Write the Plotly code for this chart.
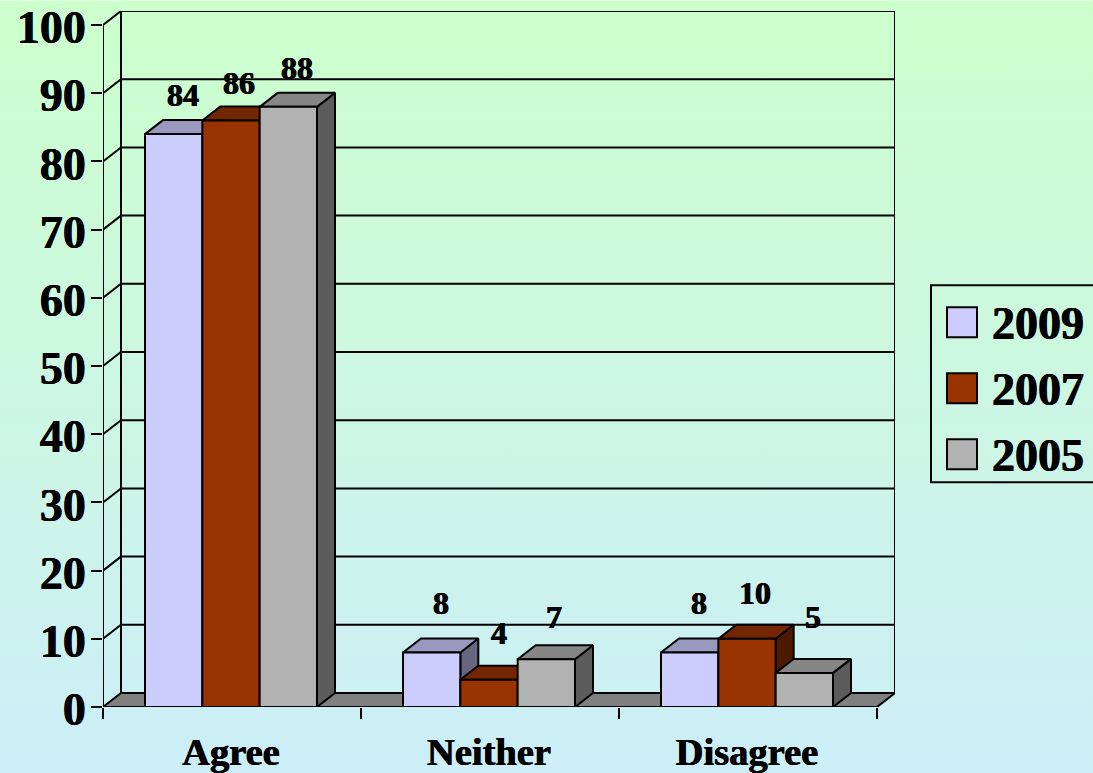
import base64
import plotly.graph_objects as go

# ---- data ----
categories = ["Agree", "Neither", "Disagree"]
years = ["2009", "2007", "2005"]
values_2009 = [84, 8, 8]
values_2007 = [86, 4, 10]
values_2005 = [88, 7, 5]
y_ticks = [0, 10, 20, 30, 40, 50, 60, 70, 80, 90, 100]

# ---- label nudges (pixels from the bar's front-top centre) ----
label_dx_2009 = [9, 9, 9]
label_dx_2007 = [8, 10, 8]
label_dx_2005 = [9, 8, 9]
label_dy_2009 = [39, 49, 49]
label_dy_2007 = [37, 47, 45.5]
label_dy_2005 = [38.5, 42, 55.6]

# ---- style ----
W, H = 1093, 773
L, R, T, B = 103, 895, 10.7, 706.7      # plot box in pixels
PX_PER_CAT = 258
PX_PER_UNIT = 6.82
DEPTH_X = 18 / PX_PER_CAT               # oblique offset of the back plane, in axis units
DEPTH_Y = 14 / PX_PER_UNIT
GROUP_NUDGE = -1 / PX_PER_CAT
FONT = "Liberation Serif"
HEAVY = "0.4px 0 0 #000, -0.4px 0 0 #000"
front_colors = ["#CCCCFF", "#993300", "#B2B2B2"]
top_colors = ["#9999BF", "#732600", "#868686"]
side_colors = ["#666680", "#4D1A00", "#5C5C5C"]
FLOOR = "#808080"
LW = 2

series = [values_2009, values_2007, values_2005]
label_dx = [label_dx_2009, label_dx_2007, label_dx_2005]
label_dy = [label_dy_2009, label_dy_2007, label_dy_2005]
n_cat = len(categories)
centers = [i + 0.5 + GROUP_NUDGE for i in range(n_cat)]
BARGAP = 1 / 3
bar_w = (1 - BARGAP) / len(series)

fig = go.Figure()


def poly(xs, ys, fill, z, line=LW):
    fig.add_trace(go.Scatter(
        x=xs, y=ys, mode="lines", fill="toself" if fill else None, fillcolor=fill,
        line=dict(color="black", width=line), hoverinfo="skip", showlegend=False,
        cliponaxis=False, zorder=z))


# floor
poly([0, n_cat, n_cat + DEPTH_X, DEPTH_X, 0], [0, 0, DEPTH_Y, DEPTH_Y, 0], FLOOR, 0)

# gridlines on the left wall and back wall
gx, gy = [], []
for v in y_ticks[1:]:
    gx += [0, DEPTH_X, n_cat + DEPTH_X, None]
    gy += [v, v + DEPTH_Y, v + DEPTH_Y, None]
poly(gx, gy, None, 0)
# wall verticals
top = y_ticks[-1]
poly([DEPTH_X, DEPTH_X, None, n_cat + DEPTH_X, n_cat + DEPTH_X],
     [DEPTH_Y, top + DEPTH_Y, None, DEPTH_Y, top + DEPTH_Y], None, 0)

# bars: side + top faces, then the real bar in front, left to right
for s, vals in enumerate(series):
    z = 1 + 2 * s
    for c, v in zip(centers, vals):
        x0 = c + (s - len(series) / 2) * bar_w
        x1 = x0 + bar_w
        poly([x1, x1 + DEPTH_X, x1 + DEPTH_X, x1, x1],
             [0, DEPTH_Y, v + DEPTH_Y, v, 0], side_colors[s], z)
        poly([x0, x1, x1 + DEPTH_X, x0 + DEPTH_X, x0],
             [v, v, v + DEPTH_Y, v + DEPTH_Y, v], top_colors[s], z)
    fig.add_trace(go.Bar(
        x=centers, y=vals, name=years[s], zorder=z + 1, showlegend=False,
        marker=dict(color=front_colors[s], line=dict(color="black", width=LW)),
        hovertemplate=years[s] + ": %{y}<extra></extra>"))

# front axis lines
poly([0, 0, None, 0, n_cat], [0, top, None, 0, 0], None, 20)

# data labels
annotations = []
for s, vals in enumerate(series):
    for i, v in enumerate(vals):
        annotations.append(dict(
            x=centers[i] + (s - 1) * bar_w, y=v, xref="x", yref="y", text=str(v),
            showarrow=False, xshift=label_dx[s][i], yshift=label_dy[s][i],
            xanchor="center", yanchor="middle",
            font=dict(family=FONT, size=32, color="black", weight=700, shadow=HEAVY)))

# legend (large swatches, drawn to scale)
PW, PH = R - L, B - T


def px(x):
    return (x - L) / PW


def py(y):
    return (B - y) / PH


shapes = [dict(type="rect", xref="paper", yref="paper", x0=px(931), x1=px(W + 3),
               y0=py(482), y1=py(285), line=dict(color="black", width=LW), layer="above")]
for s, yr in enumerate(years):
    y0 = 307 + s * 66
    shapes.append(dict(type="rect", xref="paper", yref="paper", x0=px(947), x1=px(977),
                       y0=py(y0 + 30), y1=py(y0), fillcolor=front_colors[s],
                       line=dict(color="black", width=LW), layer="above"))
    annotations.append(dict(
        x=px(990), y=py(y0 + 16), xref="paper", yref="paper", text=yr, showarrow=False,
        xanchor="left", yanchor="middle",
        font=dict(family=FONT, size=46, color="black", weight=700, shadow=HEAVY)))

# page gradient
svg = ('<svg xmlns="http://www.w3.org/2000/svg" width="%d" height="%d">'
       '<defs><linearGradient id="g" x1="0" y1="0" x2="0" y2="1">'
       '<stop offset="0" stop-color="#CCFFCC"/><stop offset="1" stop-color="#CCEEF8"/>'
       '</linearGradient></defs><rect width="100%%" height="100%%" fill="url(#g)"/></svg>' % (W, H))
src = "data:image/svg+xml;base64," + base64.b64encode(svg.encode()).decode()

fig.update_layout(
    width=W, height=H, margin=dict(l=L, r=W - R, t=T, b=H - B, pad=0, autoexpand=False),
    paper_bgcolor="rgba(0,0,0,0)", plot_bgcolor="rgba(0,0,0,0)",
    barmode="group", bargap=BARGAP, bargroupgap=0, showlegend=False,
    annotations=annotations, shapes=shapes,
    images=[dict(source=src, xref="paper", yref="paper", x=-L / PW, y=1 + T / PH,
                 sizex=W / PW, sizey=H / PH, xanchor="left", yanchor="top",
                 sizing="stretch", layer="below")],
    xaxis=dict(range=[0, (R - L) / PX_PER_CAT], tickmode="array", tickvals=centers,
               ticktext=categories, ticks="", showgrid=False, zeroline=False, showline=False,
               tickfont=dict(family=FONT, size=38.5, color="black", weight=700, shadow=HEAVY),
               ticklabelstandoff=18,
               minor=dict(tickmode="array", tickvals=list(range(n_cat + 1)), ticks="outside",
                          ticklen=11, tickwidth=LW, tickcolor="black", showgrid=False)),
    yaxis=dict(range=[0, (B - T) / PX_PER_UNIT], tickmode="array", tickvals=y_ticks,
               ticks="outside", ticklen=11, tickwidth=LW, tickcolor="black",
               showgrid=False, zeroline=False, showline=False, ticklabelstandoff=-4,
               ticklabelshift=2, ticklabeloverflow="allow",
               tickfont=dict(family=FONT, size=46, color="black", weight=700, shadow=HEAVY)),
)

fig.write_html("out.html", config={"displayModeBar": False},
               post_script="document.body.style.margin='0';document.body.style.overflow='hidden';")
